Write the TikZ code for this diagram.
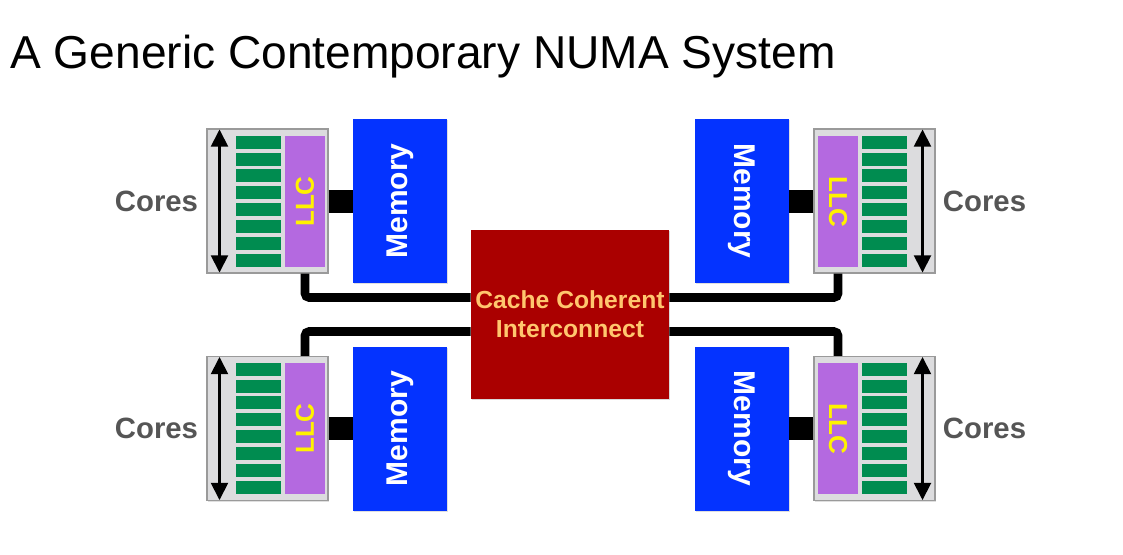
\documentclass[tikz,border=0pt]{standalone}
\usepackage{fontspec}
\setmainfont{Liberation Sans}
\usetikzlibrary{arrows.meta,calc,positioning,shadows}
\definecolor{gris}{HTML}{DCDCDE}
\definecolor{grisborde}{HTML}{9A9A9A}
\definecolor{nucleo}{HTML}{008C50}
\definecolor{cache}{HTML}{B469E0}
\definecolor{memazul}{HTML}{0433FF}
\definecolor{rojo}{HTML}{AA0000}
\definecolor{naranja}{HTML}{FFC66E}
\definecolor{etiqueta}{HTML}{555555}
\tikzset{
  socket/.style={draw=grisborde,fill=gris,line width=1pt,minimum width=90.75pt,minimum height=108pt,inner sep=0pt,
    drop shadow={shadow xshift=0.8pt,shadow yshift=-0.8pt,opacity=0.25}},
  llc/.style={fill=cache,minimum width=30pt,minimum height=98.25pt,inner sep=0pt,text=yellow,font=\fontsize{19.5}{21}\selectfont\bfseries},
  core/.style={fill=nucleo,minimum width=33.75pt,minimum height=9.75pt,inner sep=0pt},
  memory/.style={fill=memazul,minimum width=70.5pt,minimum height=123pt,inner sep=0pt,text=white,font=\fontsize{22.5}{24}\selectfont\bfseries,
    drop shadow={shadow xshift=0.8pt,shadow yshift=-0.8pt,opacity=0.25}},
  ccn/.style={fill=rojo,minimum width=148.5pt,minimum height=126.75pt,inner sep=0pt,align=center,text=naranja,font=\fontsize{18.5}{21.75}\selectfont\bfseries,
    drop shadow={shadow xshift=0.8pt,shadow yshift=-0.8pt,opacity=0.3}},
  corelabel/.style={text=etiqueta,inner sep=0pt,font=\fontsize{22}{24}\selectfont\bfseries},
  span/.style={{Triangle[width=12.5pt,length=13pt]}-{Triangle[width=12.5pt,length=13pt]},line width=2.5pt},
  bus/.style={line width=6.4pt,rounded corners=3pt},
  memlink/.style={line width=17.25pt},
}
\begin{document}
\begin{tikzpicture}[x=0.75pt,y=-0.75pt]
\useasboundingbox (0,0) rectangle (1123,554);
\node[anchor=base west,inner sep=0pt,font=\fontsize{34.6}{40}\selectfont] (titulo) at (10,68) {A Generic Contemporary NUMA System};
\node[ccn] (ccn) at (570,314.5) {Cache Coherent\\Interconnect};
\node[socket] (sock1) at (267.5,201) {};
\node[socket] (sock2) at (874.5,201) {};
\node[socket] (sock3) at (267.5,428.5) {};
\node[socket] (sock4) at (874.5,428.5) {};
\node[llc] (llc1) at (305,201.5) {\rotatebox{90}{LLC}};
\node[llc] (llc2) at (838,201.5) {\rotatebox{-90}{LLC}};
\node[llc] (llc3) at (305,428.5) {\rotatebox{90}{LLC}};
\node[llc] (llc4) at (838,428.5) {\rotatebox{-90}{LLC}};
\foreach \s/\d in {1/-1,2/1,3/-1,4/1}{
  \foreach \i in {0,...,7}
    \node[core] (core\s-\i) at ($(llc\s.north)+(\d*46.5,6.5+\i*16.86)$) {};
  \draw[span] ($(sock\s.north)+(\d*48,1)$) -- ($(sock\s.south)+(\d*48,-1)$);
}
\node[memory] (mem1) at (400,201) {\rotatebox{90}{Memory}};
\node[memory] (mem2) at (742,201) {\rotatebox{-90}{Memory}};
\node[memory] (mem3) at (400,428.5) {\rotatebox{90}{Memory}};
\node[memory] (mem4) at (742,428.5) {\rotatebox{-90}{Memory}};
\node[corelabel,left=6pt of sock1] (lab1) {Cores};
\node[corelabel,right=5.25pt of sock2] (lab2) {Cores};
\node[corelabel,left=6pt of sock3] (lab3) {Cores};
\node[corelabel,right=5.25pt of sock4] (lab4) {Cores};
\draw[memlink] (sock1) -- (mem1);
\draw[memlink] (sock2) -- (mem2);
\draw[memlink] (sock3) -- (mem3);
\draw[memlink] (sock4) -- (mem4);
\draw[bus] (llc1 |- sock1.south) |- ($(ccn.west)+(0,-17)$);
\draw[bus] (llc2 |- sock2.south) |- ($(ccn.east)+(0,-17)$);
\draw[bus] (llc3 |- sock3.north) |- ($(ccn.west)+(0,17)$);
\draw[bus] (llc4 |- sock4.north) |- ($(ccn.east)+(0,17)$);
\end{tikzpicture}
\end{document}
